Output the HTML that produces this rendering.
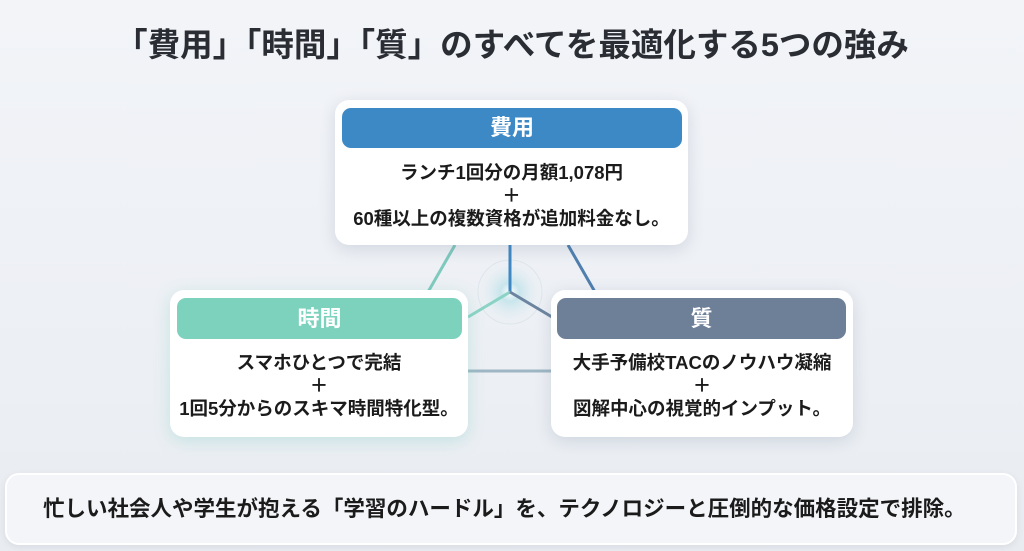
<!DOCTYPE html>
<html><head><meta charset="utf-8"><style>
body{margin:0;width:1024px;height:551px;overflow:hidden;background:linear-gradient(180deg,#f2f4f8,#e9edf2);font-family:"Liberation Sans","Noto Sans CJK JP",sans-serif;position:relative;color:#1b1b1b}
.t{position:absolute;left:0;width:1024px;top:25px;text-align:center;font-size:32.5px;line-height:40px;font-weight:bold;color:#2a2d33}
.card{position:absolute;background:#fff;border-radius:14px;box-shadow:0 4px 16px rgba(80,100,130,.18)}
.hd{position:absolute;border-radius:9px;color:#fff;font-weight:bold;font-size:22px;text-align:center}
.bd{position:absolute;left:0;right:0;text-align:center;font-weight:bold;font-size:18.5px;line-height:23px}
.bot{position:absolute;left:5px;top:473px;width:1012px;height:72px;border:2px solid #fff;border-radius:14px;background:#f3f5f8;box-shadow:0 2px 8px rgba(0,0,0,.08);box-sizing:border-box;font-weight:bold;font-size:21.5px;line-height:68px;padding-left:36px;color:#1b1b1b;white-space:nowrap}
</style></head><body>
<div class="t">「費用」「時間」「質」のすべてを最適化する5つの強み</div>
<svg width="1024" height="551" style="position:absolute;left:0;top:0">
<defs><radialGradient id="g"><stop offset="0" stop-color="#fff"/><stop offset=".3" stop-color="#bfe3ea" stop-opacity=".8"/><stop offset="1" stop-color="#e6eef3" stop-opacity="0"/></radialGradient></defs>
<circle cx="510" cy="292" r="32" fill="url(#g)"/>
<circle cx="510" cy="292" r="32" fill="none" stroke="#dde6ec" stroke-width="1"/>
<line x1="455" y1="245" x2="428" y2="292" stroke="#7fc9bd" stroke-width="3"/>
<line x1="568" y1="245" x2="595" y2="292" stroke="#4f7fae" stroke-width="3"/>
<line x1="510" y1="245" x2="510" y2="292" stroke="#3f88c4" stroke-width="3"/>
<line x1="510" y1="292" x2="468" y2="317" stroke="#8bd3c5" stroke-width="3"/>
<line x1="510" y1="292" x2="552" y2="317" stroke="#6d84a0" stroke-width="3"/>
<line x1="468" y1="371" x2="552" y2="371" stroke="#9fb7c4" stroke-width="3"/>
</svg>
<div class="card" style="left:335px;top:100px;width:353px;height:145px">
<div class="hd" style="left:7px;top:8px;width:340px;height:40px;line-height:40px;background:#3d89c6">費用</div>
<div class="bd" style="top:61px">ランチ1回分の月額1,078円<br>＋<br>60種以上の複数資格が追加料金なし。</div></div>
<div class="card" style="left:170px;top:290px;width:298px;height:147px;box-shadow:0 4px 16px rgba(110,200,185,.3)">
<div class="hd" style="left:7px;top:8px;width:285px;height:41px;line-height:41px;background:#7dd2bd">時間</div>
<div class="bd" style="top:61px">スマホひとつで完結<br>＋<br>1回5分からのスキマ時間特化型。</div></div>
<div class="card" style="left:551px;top:290px;width:302px;height:147px">
<div class="hd" style="left:6px;top:8px;width:289px;height:41px;line-height:41px;background:#6e7f98">質</div>
<div class="bd" style="top:61px">大手予備校TACのノウハウ凝縮<br>＋<br>図解中心の視覚的インプット。</div></div>
<div class="bot">忙しい社会人や学生が抱える「学習のハードル」を、テクノロジーと圧倒的な価格設定で排除。</div>
</body></html>
